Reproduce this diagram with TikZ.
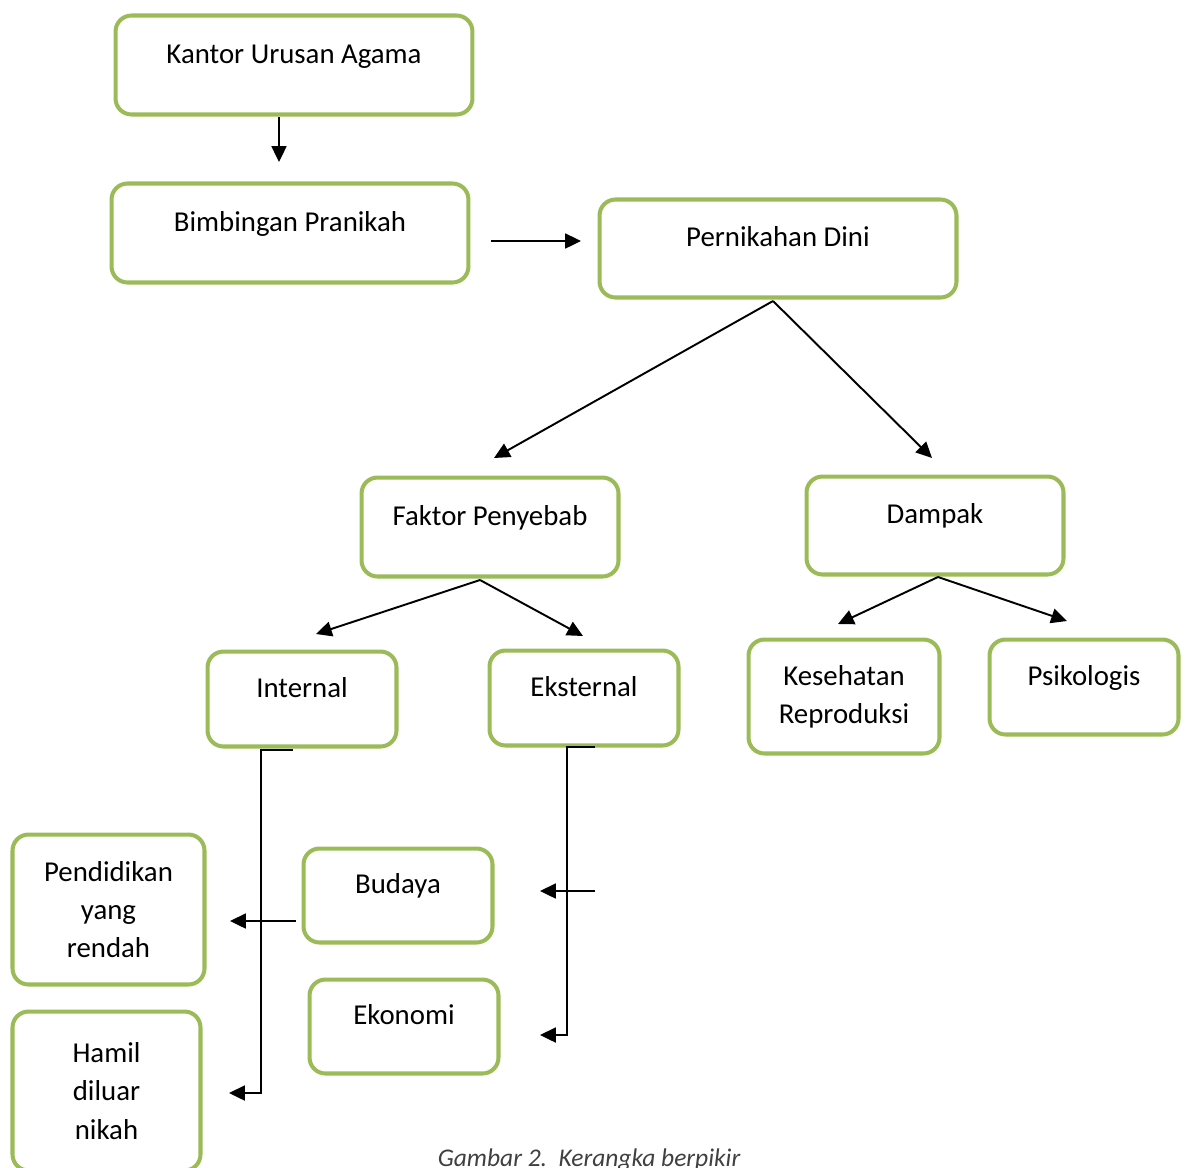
\documentclass[tikz,border=0pt]{standalone}
\usepackage{fontspec}
\setmainfont{Carlito}
\usetikzlibrary{arrows.meta}
\definecolor{hijau}{HTML}{9BBB59}

\begin{document}
\begin{tikzpicture}[x=0.02cm,y=-0.02cm,
	kotak/.style={draw=hijau,line width=2.3pt,rounded corners=0.32cm,align=center,font=\fontsize{16.4}{21.8}\selectfont,inner sep=0pt},
	satu/.style={kotak,text height=11pt,text depth=13pt},
	panah/.style={-{Triangle[length=9pt,width=8.5pt]},line width=1.1pt},
	garis/.style={line width=1.1pt}]
	
	\useasboundingbox (0,0) rectangle (1189,1167);
	
	\node[satu,minimum width=7.14cm,minimum height=1.98cm] (kua) at (294,65) {Kantor Urusan Agama};
	\node[satu,minimum width=7.14cm,minimum height=1.98cm] (bim) at (290,233) {Bimbingan Pranikah};
	\node[satu,minimum width=7.14cm,minimum height=1.96cm] (nikah) at (778,248.5) {Pernikahan Dini};
	\node[satu,minimum width=5.14cm,minimum height=1.98cm] (faktor) at (490,527) {Faktor Penyebab};
	\node[satu,minimum width=5.14cm,minimum height=1.96cm] (dampak) at (935,525.5) {Dampak};
	\node[satu,minimum width=3.78cm,minimum height=1.90cm] (internal) at (302,699) {Internal};
	\node[satu,minimum width=3.78cm,minimum height=1.90cm] (eksternal) at (584,698) {Eksternal};
	\node[kotak,minimum width=3.82cm,minimum height=2.28cm] (sehat) at (844,696.5) {Kesehatan\\Reproduksi};
	\node[satu,minimum width=3.78cm,minimum height=1.90cm] (psiko) at (1084,687) {Psikologis};
	\node[kotak,minimum width=3.84cm,minimum height=3.00cm] (didik) at (108.5,909.5) {Pendidikan\\yang\\rendah};
	\node[satu,minimum width=3.78cm,minimum height=1.88cm] (budaya) at (398,895.5) {Budaya};
	\node[satu,minimum width=3.78cm,minimum height=1.88cm] (ekonomi) at (404,1026.5) {Ekonomi};
	\node[kotak,minimum width=3.76cm,minimum height=3.18cm] (hamil) at (106.5,1091) {Hamil\\diluar\\nikah};
	
	\node[font=\fontsize{14.5}{17}\selectfont\itshape,text=black!75,anchor=base] (judul) at (589,1166) {Gambar 2.\ \ Kerangka berpikir};
	
	% ujung panah
	\coordinate (a1) at (279,117);
	\coordinate (t1) at (279,162);
	\coordinate (a2) at (491,241);
	\coordinate (t2) at (581,241);
	\coordinate (a3) at (773,301);
	\coordinate (t3) at (494,458);
	\coordinate (t4) at (932,458);
	\coordinate (a5) at (480,580);
	\coordinate (t5) at (316,634);
	\coordinate (t6) at (583,636);
	\coordinate (a7) at (938,577);
	\coordinate (t7) at (838,624);
	\coordinate (t8) at (1067,621);
	\coordinate (a9) at (293,750);
	\coordinate (b9) at (261,750);
	\coordinate (t9) at (229,1093);
	\coordinate (a10) at (296,921);
	\coordinate (t10) at (230,921);
	\coordinate (a11) at (595,747);
	\coordinate (b11) at (567,747);
	\coordinate (t11) at (540,1035);
	\coordinate (a12) at (595,891);
	\coordinate (t12) at (540,891);
	
	\draw[panah] (a1) -- (t1);
	\draw[panah] (a2) -- (t2);
	\draw[panah] (a3) -- (t3);
	\draw[panah] (a3) -- (t4);
	\draw[panah] (a5) -- (t5);
	\draw[panah] (a5) -- (t6);
	\draw[panah] (a7) -- (t7);
	\draw[panah] (a7) -- (t8);
	\draw[panah] (a9) -- (b9) |- (t9);
	\draw[panah] (a10) -- (t10);
	\draw[panah] (a11) -- (b11) |- (t11);
	\draw[panah] (a12) -- (t12);
\end{tikzpicture}
\end{document}
